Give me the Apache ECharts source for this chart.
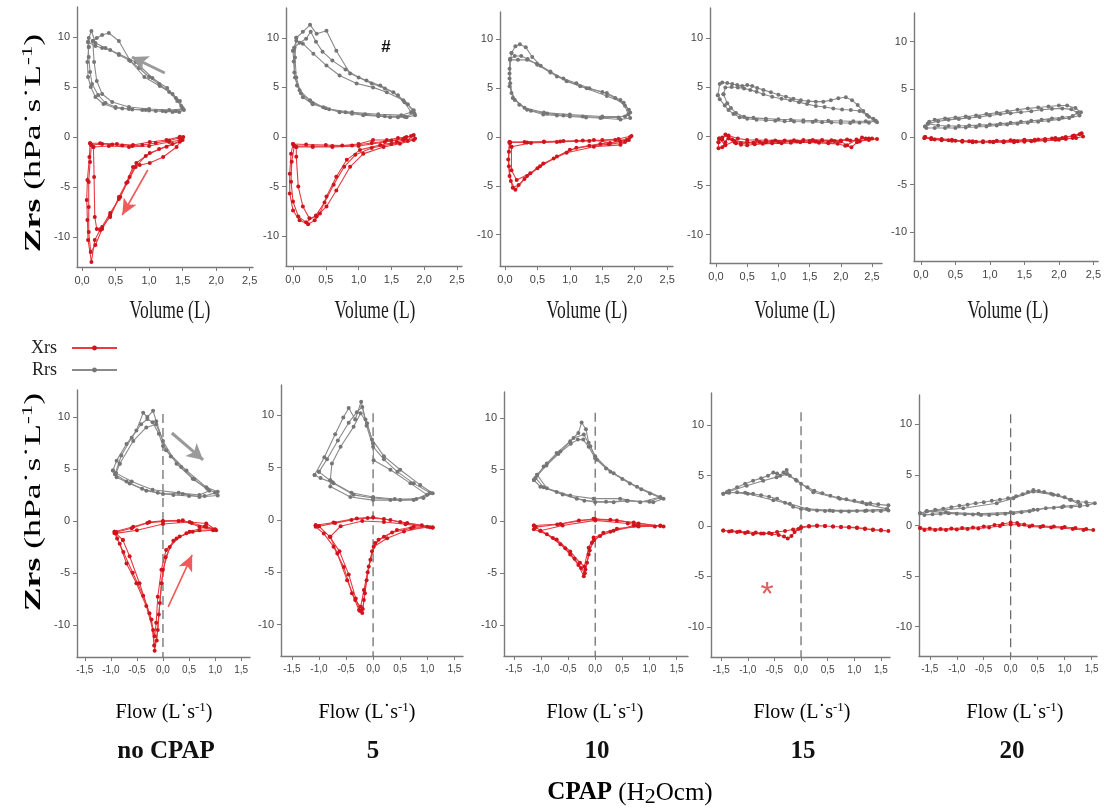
<!DOCTYPE html>
<html>
<head>
<meta charset="utf-8">
<script src="https://cdn.jsdelivr.net/npm/echarts@6/dist/echarts.min.js"></script>
<style>
html, body { margin: 0; background: #fff; }
#main { width: 1104px; height: 809px; }
</style>
</head>
<body>
<div id="main"></div>
<script>
// tick labels
const volTicks = [0, 0.5, 1, 1.5, 2, 2.5]
const flowTicks = [-1.5, -1, -0.5, 0, 0.5, 1, 1.5]
const zTicks = [-10, -5, 0, 5, 10]
const cpapLevels = ['no CPAP', '5', '10', '15', '20']

// Zrs vs volume, one array of loops (breaths) per CPAP level
const volRrs0 = [
    [[0.10, 9.0], [0.08, 7.5], [0.09, 6.0], [0.13, 5.0], [0.2, 4.0], [0.32, 3.3], [0.5, 2.9], [0.6, 2.85], [0.75, 2.75], [0.9, 2.7], [1.0, 2.65], [1.1, 2.6], [1.25, 2.55], [1.35, 2.5], [1.45, 2.5], [1.52, 2.7], [1.48, 3.1], [1.4, 3.9], [1.27, 4.9], [1.05, 5.9], [0.8, 7.5], [0.55, 8.3], [0.35, 8.9], [0.2, 9.4], [0.14, 10.6], [0.1, 9.9], [0.10, 9.0]],
    [[0.16, 9.6], [0.18, 7.5], [0.22, 5.6], [0.3, 4.3], [0.45, 3.5], [0.7, 3.0], [1.0, 2.8], [1.3, 2.7], [1.5, 2.8], [1.46, 3.6], [1.35, 4.3], [1.16, 5.1], [0.93, 6.0], [0.72, 7.6], [0.55, 9.6], [0.4, 10.4], [0.3, 10.2], [0.22, 9.9], [0.16, 9.6]],
    [[0.09, 9.5], [0.2, 9.1], [0.3, 8.9], [0.42, 8.7], [0.55, 8.2], [0.7, 7.7], [0.85, 6.9], [1.0, 6.0], [1.15, 5.3], [1.3, 4.5], [1.42, 3.6], [1.5, 2.9], [1.4, 2.6], [1.2, 2.6], [0.95, 2.7], [0.7, 2.8], [0.5, 3.0], [0.35, 3.4], [0.24, 4.2], [0.15, 5.3], [0.12, 6.5], [0.1, 8.0], [0.09, 9.5]]
]
const volXrs0 = [
    [[0.12, -0.63], [0.27, -0.63], [0.52, -0.7], [0.76, -0.8], [1.01, -0.5], [1.26, -0.3], [1.46, 0.03], [1.51, 0], [1.46, -0.47], [1.26, -0.97], [1.01, -1.6], [0.81, -2.6], [0.71, -4], [0.57, -6], [0.42, -7.6], [0.27, -9.3], [0.19, -10.3], [0.14, -12.5], [0.09, -10.3], [0.08, -8.3], [0.07, -6.3], [0.08, -4.3], [0.11, -2], [0.12, -0.63]],
    [[0.17, -1.0], [0.18, -4], [0.19, -8], [0.22, -9.2], [0.3, -9.0], [0.42, -8.0], [0.55, -6], [0.66, -4.6], [0.76, -3.0], [0.86, -2.8], [1.01, -2.6], [1.21, -2.0], [1.41, -1.0], [1.48, -0.3], [1.3, -0.5], [1.0, -0.9], [0.7, -1.0], [0.4, -0.9], [0.17, -1.0]],
    [[0.14, -0.8], [0.3, -0.7], [0.45, -0.75], [0.6, -0.85], [0.75, -0.9], [0.9, -0.8], [1.1, -0.6], [1.3, -0.35], [1.45, -0.1], [1.5, -0.3], [1.35, -0.7], [1.15, -1.2], [0.95, -1.9], [0.8, -3.0], [0.68, -4.5], [0.55, -6.2], [0.42, -7.8], [0.3, -9.2], [0.2, -10.8], [0.13, -11.5], [0.1, -9.5], [0.1, -7], [0.1, -4.5], [0.12, -2.5], [0.14, -0.8]]
]
const volRrs1 = [
    [[0, 8.7], [0.01, 7.6], [0.03, 6], [0.1, 4.7], [0.26, 3.7], [0.46, 3.0], [0.71, 2.5], [0.9, 2.35], [1.07, 2.2], [1.3, 2.1], [1.48, 2.0], [1.6, 2.0], [1.73, 2.0], [1.86, 2.2], [1.84, 2.7], [1.68, 3.7], [1.43, 4.5], [1.22, 5.0], [0.97, 5.4], [0.71, 6.2], [0.51, 7.2], [0.31, 8.4], [0.15, 9.4], [0.05, 9.7], [0, 8.7]],
    [[0.05, 10], [0.15, 10.6], [0.26, 11.3], [0.36, 10.4], [0.51, 10.7], [0.66, 8.7], [0.87, 6.4], [1.12, 5.7], [1.33, 5.2], [1.53, 4.5], [1.7, 3.5], [1.8, 2.5], [1.65, 2.2], [1.3, 2.3], [0.9, 2.5], [0.55, 2.8], [0.3, 3.4], [0.12, 4.4], [0.05, 6.0], [0.03, 8.0], [0.05, 10]],
    [[0.02, 9.0], [0.1, 9.5], [0.2, 9.9], [0.27, 10.6], [0.35, 9.6], [0.45, 8.6], [0.6, 7.7], [0.8, 6.8], [1.0, 6.0], [1.2, 5.4], [1.4, 4.9], [1.6, 4.2], [1.75, 3.3], [1.85, 2.4], [1.7, 2.05], [1.4, 2.1], [1.1, 2.3], [0.8, 2.5], [0.5, 2.9], [0.3, 3.3], [0.15, 4.0], [0.06, 5.2], [0.02, 6.5], [0.02, 9.0]]
]
const volXrs1 = [
    [[0, -0.7], [0.2, -0.75], [0.5, -0.8], [0.75, -0.85], [1.0, -0.7], [1.22, -0.3], [1.43, -0.3], [1.6, -0.1], [1.73, 0], [1.84, 0.2], [1.86, -0.15], [1.68, -0.3], [1.58, -0.5], [1.33, -0.8], [1.02, -1.3], [0.82, -2.3], [0.66, -4], [0.51, -6], [0.41, -7.7], [0.33, -8.4], [0.23, -8.8], [0.1, -8.4], [0, -7.4], [-0.05, -5.7], [-0.05, -3.7], [-0.03, -1.7], [0, -0.7]],
    [[0.05, -1.0], [0.05, -2.0], [0.08, -5.0], [0.15, -7.0], [0.25, -8.2], [0.36, -8.0], [0.51, -7.0], [0.66, -5.4], [0.87, -3.0], [1.07, -1.7], [1.38, -1.0], [1.63, -0.67], [1.84, -0.3], [1.7, -0.2], [1.4, -0.5], [1.0, -0.9], [0.6, -1.0], [0.3, -1.0], [0.05, -1.0]],
    [[0.02, -0.9], [0.3, -0.9], [0.6, -0.9], [0.9, -0.85], [1.2, -0.6], [1.5, -0.35], [1.7, -0.1], [1.8, 0.1], [1.75, -0.4], [1.5, -0.7], [1.2, -1.1], [0.95, -1.8], [0.78, -3.0], [0.62, -4.8], [0.48, -6.6], [0.35, -7.9], [0.2, -8.6], [0.08, -8.0], [0.0, -6.5], [-0.03, -4.5], [-0.02, -2.5], [0.02, -0.9]]
]
const volRrs2 = [
    [[0.08, 7.9], [0.07, 6.5], [0.07, 5.2], [0.15, 3.8], [0.34, 2.8], [0.59, 2.3], [0.8, 2.2], [1.0, 2.1], [1.25, 2.0], [1.47, 1.95], [1.78, 1.8], [1.93, 1.95], [1.91, 2.8], [1.78, 3.8], [1.57, 4.5], [1.26, 5.0], [0.95, 5.7], [0.7, 6.7], [0.49, 7.5], [0.34, 7.9], [0.2, 7.9], [0.08, 7.9]],
    [[0.1, 8.6], [0.16, 9.3], [0.23, 9.5], [0.32, 9.2], [0.42, 8.2], [0.55, 7.3], [0.8, 6.2], [1.16, 5.2], [1.57, 4.2], [1.83, 3.5], [1.93, 2.5], [1.85, 2.1], [1.5, 2.1], [1.0, 2.3], [0.6, 2.5], [0.3, 3.0], [0.12, 4.0], [0.08, 5.5], [0.07, 7.0], [0.1, 8.6]],
    [[0.08, 8.0], [0.15, 8.3], [0.25, 8.3], [0.35, 8.0], [0.5, 7.4], [0.7, 6.6], [0.9, 6.0], [1.1, 5.5], [1.3, 5.0], [1.5, 4.6], [1.7, 4.0], [1.85, 3.2], [1.9, 2.3], [1.75, 2.0], [1.5, 2.0], [1.2, 2.1], [0.9, 2.2], [0.65, 2.4], [0.4, 2.7], [0.22, 3.3], [0.1, 4.5], [0.07, 6.0], [0.08, 8.0]]
]
const volXrs2 = [
    [[0.08, -0.55], [0.34, -0.55], [0.6, -0.5], [0.85, -0.45], [1.1, -0.4], [1.37, -0.3], [1.62, -0.6], [1.88, -0.3], [1.93, 0], [1.78, -0.45], [1.47, -0.7], [1.1, -1.1], [0.8, -2.0], [0.54, -3.0], [0.34, -4.0], [0.21, -4.9], [0.12, -5.2], [0.07, -4.0], [0.05, -2.3], [0.07, -0.6], [0.08, -0.55]],
    [[0.1, -1.0], [0.1, -3.4], [0.18, -4.4], [0.39, -3.7], [0.59, -2.7], [0.95, -1.6], [1.37, -1.0], [1.78, -0.8], [1.91, -0.3], [1.7, -0.3], [1.3, -0.4], [0.8, -0.5], [0.4, -0.6], [0.1, -1.0]],
    [[0.07, -0.5], [0.3, -0.5], [0.6, -0.45], [0.9, -0.4], [1.2, -0.35], [1.5, -0.3], [1.75, -0.2], [1.95, 0.1], [1.85, -0.5], [1.6, -0.75], [1.3, -0.9], [1.0, -1.3], [0.75, -2.2], [0.5, -3.2], [0.3, -4.3], [0.16, -5.4], [0.09, -4.5], [0.06, -3.0], [0.06, -1.5], [0.07, -0.5]]
]
const volRrs3 = [
    [[0.03, 4.2], [0.06, 5.35], [0.1, 5.5], [0.18, 5.45], [0.26, 5.35], [0.34, 5.25], [0.42, 5.15], [0.5, 5.25], [0.58, 5.15], [0.66, 4.95], [0.76, 4.75], [0.88, 4.5], [1.0, 4.25], [1.12, 4.05], [1.24, 3.85], [1.36, 3.7], [1.48, 3.6], [1.6, 3.55], [1.72, 3.55], [1.84, 3.7], [1.96, 3.9], [2.08, 4.0], [2.18, 3.7], [2.27, 3.2], [2.36, 2.6], [2.45, 2.0], [2.55, 1.6], [2.58, 1.45], [2.45, 1.4], [2.3, 1.4], [2.15, 1.38], [2.0, 1.38], [1.85, 1.42], [1.7, 1.45], [1.55, 1.48], [1.4, 1.5], [1.25, 1.52], [1.1, 1.55], [0.95, 1.6], [0.8, 1.65], [0.65, 1.7], [0.5, 1.8], [0.38, 1.95], [0.28, 2.3], [0.2, 2.7], [0.14, 3.15], [0.06, 3.8], [0.03, 4.2]],
    [[0.12, 4.3], [0.15, 5.0], [0.25, 5.05], [0.35, 5.0], [0.45, 4.9], [0.55, 4.75], [0.65, 4.55], [0.76, 4.3], [0.9, 4.05], [1.05, 3.85], [1.19, 3.7], [1.33, 3.5], [1.46, 3.3], [1.6, 3.1], [1.74, 3.0], [1.88, 2.85], [2.02, 2.75], [2.16, 2.7], [2.3, 2.6], [2.42, 2.2], [2.52, 1.8], [2.56, 1.6], [2.4, 1.55], [2.2, 1.55], [2.0, 1.58], [1.8, 1.6], [1.6, 1.62], [1.4, 1.65], [1.2, 1.7], [1.0, 1.75], [0.8, 1.82], [0.6, 1.9], [0.45, 2.0], [0.32, 2.4], [0.24, 2.9], [0.18, 3.4], [0.12, 4.3]]
]
const volXrs3 = [
    [[0.04, -0.6], [0.04, -1.2], [0.1, -1.1], [0.15, -0.6], [0.2, 0.0], [0.26, -0.3], [0.32, -0.7], [0.4, -0.85], [0.5, -0.9], [0.62, -0.8], [0.75, -0.75], [0.9, -0.7], [1.05, -0.7], [1.2, -0.65], [1.35, -0.6], [1.5, -0.6], [1.65, -0.65], [1.8, -0.7], [1.95, -0.75], [2.07, -0.95], [2.17, -1.1], [2.26, -0.6], [2.34, -0.1], [2.45, -0.2], [2.58, -0.25], [2.45, -0.35], [2.3, -0.45], [2.15, -0.4], [2.0, -0.4], [1.85, -0.38], [1.7, -0.36], [1.55, -0.35], [1.4, -0.37], [1.25, -0.38], [1.1, -0.4], [0.95, -0.4], [0.8, -0.38], [0.65, -0.36], [0.5, -0.35], [0.35, -0.2], [0.2, 0.1], [0.1, -0.1], [0.04, -0.6]],
    [[0.05, -0.2], [0.1, -0.3], [0.15, 0.2], [0.2, -0.2], [0.3, -0.6], [0.4, -0.7], [0.6, -0.65], [0.8, -0.6], [1.0, -0.55], [1.2, -0.5], [1.4, -0.45], [1.6, -0.5], [1.8, -0.6], [2.0, -0.5], [2.1, -0.9], [2.25, -0.3], [2.4, -0.2], [2.5, -0.2], [2.3, -0.5], [2.1, -0.3], [1.9, -0.45], [1.7, -0.4], [1.5, -0.45], [1.3, -0.5], [1.1, -0.45], [0.9, -0.5], [0.7, -0.55], [0.5, -0.6], [0.3, -0.45], [0.15, -0.9], [0.05, -0.2]]
]
const volRrs4 = [
    [[0.06, 1.1], [0.12, 1.6], [0.2, 1.8], [0.35, 1.95], [0.5, 2.05], [0.65, 2.15], [0.8, 2.25], [0.95, 2.4], [1.1, 2.55], [1.25, 2.7], [1.4, 2.85], [1.55, 3.0], [1.7, 3.1], [1.85, 3.2], [2.0, 3.3], [2.12, 3.3], [2.24, 3.05], [2.32, 2.6], [2.3, 2.25], [2.15, 2.0], [2.0, 1.85], [1.85, 1.7], [1.7, 1.6], [1.55, 1.5], [1.4, 1.4], [1.25, 1.3], [1.1, 1.2], [0.95, 1.1], [0.8, 1.05], [0.65, 1.0], [0.5, 0.95], [0.35, 0.95], [0.2, 0.95], [0.08, 0.95], [0.06, 1.1]],
    [[0.1, 1.4], [0.25, 1.65], [0.4, 1.8], [0.55, 1.9], [0.7, 2.0], [0.85, 2.1], [1.0, 2.25], [1.15, 2.4], [1.3, 2.5], [1.45, 2.6], [1.6, 2.7], [1.75, 2.85], [1.9, 2.95], [2.05, 3.0], [2.18, 2.9], [2.27, 2.55], [2.2, 2.2], [2.05, 2.05], [1.9, 1.95], [1.75, 1.8], [1.6, 1.7], [1.45, 1.6], [1.3, 1.5], [1.15, 1.4], [1.0, 1.3], [0.85, 1.25], [0.7, 1.2], [0.55, 1.15], [0.4, 1.15], [0.25, 1.2], [0.1, 1.4]]
]
const volXrs4 = [
    [[0.06, 0], [0.15, -0.2], [0.3, -0.3], [0.45, -0.4], [0.6, -0.5], [0.75, -0.55], [0.9, -0.55], [1.05, -0.5], [1.2, -0.45], [1.35, -0.4], [1.5, -0.35], [1.65, -0.3], [1.8, -0.2], [1.95, -0.1], [2.1, 0], [2.22, 0.15], [2.33, 0.4], [2.35, 0.05], [2.25, -0.1], [2.1, -0.2], [1.95, -0.3], [1.8, -0.35], [1.65, -0.4], [1.5, -0.5], [1.35, -0.55], [1.2, -0.55], [1.05, -0.55], [0.9, -0.5], [0.75, -0.45], [0.6, -0.4], [0.45, -0.3], [0.3, -0.2], [0.15, -0.1], [0.06, 0]],
    [[0.05, -0.1], [0.15, -0.2], [0.3, -0.35], [0.5, -0.4], [0.7, -0.45], [0.9, -0.45], [1.1, -0.4], [1.3, -0.35], [1.5, -0.3], [1.7, -0.25], [1.9, -0.15], [2.05, -0.1], [2.2, 0.1], [2.3, 0.3], [2.2, -0.1], [2.0, -0.3], [1.8, -0.4], [1.6, -0.45], [1.4, -0.45], [1.2, -0.5], [1.0, -0.5], [0.8, -0.5], [0.6, -0.45], [0.4, -0.35], [0.2, -0.25], [0.05, -0.1]]
]

// Zrs vs flow
const flowRrs0 = [
    [[-0.96, 4.85], [-0.89, 5.8], [-0.7, 7.4], [-0.51, 8.7], [-0.38, 10.4], [-0.3, 10.0], [-0.19, 10.6], [-0.13, 9.6], [0.06, 6.8], [0.45, 4.85], [0.83, 3.25], [1.05, 2.8], [1.05, 2.45], [0.7, 2.3], [0.38, 2.6], [0, 2.6], [-0.32, 2.9], [-0.64, 3.6], [-0.89, 4.2], [-0.96, 4.85]],
    [[-0.83, 5.5], [-0.57, 7.7], [-0.32, 9.0], [-0.13, 9.3], [0, 7.7], [0.26, 5.5], [0.57, 4.05], [0.89, 2.9], [0.7, 2.5], [0.3, 2.7], [-0.2, 3.0], [-0.6, 3.8], [-0.9, 4.6], [-0.83, 5.5]],
    [[-0.92, 4.5], [-0.8, 6.3], [-0.6, 8.0], [-0.42, 9.3], [-0.3, 9.8], [-0.2, 9.5], [-0.08, 8.4], [0.0, 7.2], [0.15, 6.2], [0.35, 5.2], [0.6, 4.0], [0.85, 3.1], [1.0, 2.7], [0.8, 2.4], [0.5, 2.4], [0.2, 2.5], [-0.1, 2.7], [-0.4, 3.1], [-0.7, 3.8], [-0.92, 4.5]]
]
const flowXrs0 = [
    [[-0.93, -1.05], [-0.57, -0.57], [-0.26, -0.1], [0, 0], [0.38, 0.06], [0.7, -0.57], [1.02, -0.9], [0.96, -0.9], [0.57, -1.05], [0.32, -1.5], [0.13, -2.5], [0, -4.7], [-0.06, -7.9], [-0.1, -10.5], [-0.16, -12.5], [-0.19, -10.5], [-0.32, -8.2], [-0.51, -6], [-0.7, -4.1], [-0.83, -2.2], [-0.93, -1.2], [-0.93, -1.05]],
    [[-0.77, -1.85], [-0.64, -3.4], [-0.45, -6], [-0.26, -8.9], [-0.16, -11.1], [-0.13, -9.8], [-0.1, -7.3], [-0.03, -4.7], [0.06, -2.8], [0.26, -1.7], [0.51, -1.05], [0.83, -0.57], [1.0, -0.8], [0.83, -0.25], [0.51, -0.1], [0, -0.3], [-0.5, -0.9], [-0.9, -1.2], [-0.77, -1.85]],
    [[-0.9, -1.1], [-0.6, -0.7], [-0.3, -0.2], [0, -0.05], [0.3, 0.0], [0.55, -0.2], [0.8, -0.55], [1.0, -0.85], [0.7, -0.9], [0.45, -1.2], [0.2, -1.9], [0.05, -3.5], [-0.03, -6.0], [-0.08, -9.0], [-0.12, -11.5], [-0.17, -12.0], [-0.22, -9.5], [-0.38, -7.2], [-0.58, -5.0], [-0.76, -3.0], [-0.88, -1.7], [-0.9, -1.1]]
]
const flowRrs1 = [
    [[-1.08, 4.3], [-0.9, 6.0], [-0.7, 8.2], [-0.55, 9.8], [-0.45, 10.7], [-0.33, 9.6], [-0.22, 11.3], [-0.14, 9.6], [-0.02, 7.7], [0.2, 6.1], [0.5, 4.8], [0.87, 3.35], [1.1, 2.55], [0.93, 2.1], [0.5, 1.9], [0, 2.1], [-0.36, 2.4], [-0.73, 3.5], [-0.97, 4.0], [-1.08, 4.3]],
    [[-0.79, 3.8], [-0.76, 5.4], [-0.6, 7.0], [-0.36, 8.9], [-0.23, 10.2], [-0.11, 9.25], [0, 7.3], [0.01, 5.7], [0.32, 4.8], [0.69, 3.5], [1.0, 2.4], [0.75, 1.9], [0.32, 1.9], [0, 1.9], [-0.42, 2.2], [-0.79, 3.2], [-0.79, 3.8]],
    [[-1.0, 4.6], [-0.85, 5.8], [-0.65, 7.6], [-0.45, 9.3], [-0.3, 10.3], [-0.2, 10.8], [-0.12, 9.0], [0.0, 7.0], [0.2, 5.8], [0.45, 4.6], [0.75, 3.5], [1.05, 2.6], [0.8, 2.0], [0.4, 2.0], [0.0, 2.2], [-0.4, 2.6], [-0.75, 3.6], [-1.0, 4.6]]
]
const flowXrs1 = [
    [[-1.06, -0.5], [-0.73, -0.25], [-0.3, 0.15], [0, 0.25], [0.32, 0], [0.63, -0.3], [1.1, -0.7], [1.1, -0.75], [0.75, -0.65], [0.44, -0.95], [0.2, -1.6], [0.04, -2.2], [-0.05, -3.8], [-0.12, -5.75], [-0.17, -7.65], [-0.2, -8.9], [-0.26, -8.6], [-0.39, -7.0], [-0.54, -4.5], [-0.73, -2.55], [-0.91, -1.3], [-1.06, -0.65], [-1.06, -0.5]],
    [[-0.79, -1.6], [-0.66, -3.2], [-0.48, -5.75], [-0.33, -7.65], [-0.23, -8.3], [-0.17, -6.7], [-0.08, -4.45], [0.01, -2.55], [0.26, -1.75], [0.57, -1.1], [1.0, -0.65], [0.6, -0.4], [0.2, -0.2], [-0.2, -0.1], [-0.6, -0.6], [-0.79, -1.6]],
    [[-1.0, -0.6], [-0.7, -0.3], [-0.4, 0.0], [-0.1, 0.2], [0.2, 0.1], [0.5, -0.2], [0.9, -0.5], [1.05, -0.7], [0.7, -0.8], [0.35, -1.2], [0.1, -1.9], [-0.02, -3.0], [-0.1, -5.0], [-0.15, -7.0], [-0.19, -8.5], [-0.24, -8.7], [-0.32, -7.5], [-0.45, -5.2], [-0.62, -3.0], [-0.8, -1.6], [-1.0, -0.6]]
]
const flowRrs2 = [
    [[-1.13, 4.0], [-0.95, 5.3], [-0.71, 6.6], [-0.46, 7.75], [-0.31, 8.55], [-0.25, 9.55], [-0.17, 8.9], [-0.12, 7.6], [0, 6.3], [0.28, 4.8], [0.64, 3.65], [1.01, 2.7], [1.26, 2.2], [1.07, 1.85], [0.58, 2.0], [0.34, 1.85], [0, 1.85], [-0.34, 2.2], [-0.71, 2.85], [-1.01, 3.35], [-1.13, 4.0]],
    [[-1.07, 4.5], [-0.89, 5.6], [-0.64, 6.75], [-0.4, 8.05], [-0.21, 8.4], [-0.09, 7.25], [0.03, 5.95], [0.34, 4.65], [0.77, 3.35], [1.2, 2.35], [0.83, 1.85], [0.46, 2.2], [-0.03, 2.2], [-0.46, 2.5], [-0.89, 3.2], [-1.07, 4.5]],
    [[-1.1, 4.2], [-0.9, 5.4], [-0.68, 6.5], [-0.45, 7.5], [-0.32, 7.9], [-0.22, 7.9], [-0.12, 7.2], [0.0, 6.1], [0.2, 5.1], [0.5, 4.1], [0.85, 3.1], [1.2, 2.3], [1.0, 1.9], [0.6, 2.0], [0.2, 1.9], [-0.2, 2.0], [-0.6, 2.6], [-0.95, 3.3], [-1.1, 4.2]]
]
const flowXrs2 = [
    [[-1.13, -0.4], [-0.64, -0.25], [-0.03, 0.25], [0.28, 0.15], [0.71, -0.1], [1.26, -0.5], [1.2, -0.4], [0.71, -0.4], [0.34, -0.9], [0.09, -1.4], [-0.06, -2.05], [-0.12, -3.2], [-0.18, -4.65], [-0.21, -5.3], [-0.31, -4.2], [-0.46, -3.2], [-0.64, -2.2], [-0.89, -1.25], [-1.13, -0.75], [-1.13, -0.4]],
    [[-1.01, -0.9], [-0.71, -1.75], [-0.46, -2.9], [-0.28, -4.0], [-0.2, -4.35], [-0.12, -2.55], [-0.03, -1.55], [0.28, -1.0], [0.77, -0.4], [1.1, -0.5], [0.6, -0.2], [0, 0.1], [-0.6, -0.4], [-1.01, -0.9]],
    [[-1.1, -0.55], [-0.7, -0.3], [-0.3, 0.1], [0, 0.2], [0.4, 0.1], [0.8, -0.2], [1.2, -0.45], [0.8, -0.5], [0.4, -0.7], [0.15, -1.1], [-0.02, -1.8], [-0.1, -2.8], [-0.15, -4.0], [-0.19, -5.0], [-0.26, -4.5], [-0.38, -3.6], [-0.55, -2.6], [-0.78, -1.6], [-1.1, -0.55]]
]
const flowRrs3 = [
    [[-1.46, 3.2], [-1.35, 3.5], [-1.2, 3.85], [-1.05, 4.2], [-0.9, 4.5], [-0.75, 4.75], [-0.62, 5.0], [-0.52, 5.3], [-0.45, 5.2], [-0.39, 5.0], [-0.33, 5.3], [-0.27, 5.55], [-0.21, 5.0], [-0.1, 4.6], [0.0, 4.2], [0.12, 3.85], [0.25, 3.5], [0.4, 3.25], [0.55, 3.0], [0.7, 2.8], [0.85, 2.65], [1.0, 2.5], [1.15, 2.35], [1.3, 2.25], [1.45, 2.15], [1.64, 2.05], [1.64, 1.55], [1.5, 1.5], [1.35, 1.5], [1.2, 1.5], [1.05, 1.48], [0.9, 1.45], [0.75, 1.45], [0.6, 1.5], [0.45, 1.5], [0.3, 1.55], [0.15, 1.6], [0, 1.7], [-0.15, 1.9], [-0.3, 2.3], [-0.45, 2.7], [-0.6, 2.9], [-0.75, 3.05], [-0.9, 3.2], [-1.05, 3.3], [-1.2, 3.35], [-1.35, 3.3], [-1.46, 3.2]],
    [[-1.39, 3.35], [-1.02, 4.0], [-0.71, 4.5], [-0.46, 4.85], [-0.27, 5.15], [-0.08, 4.5], [0.23, 3.35], [0.73, 2.7], [1.23, 2.15], [1.61, 1.7], [1.23, 1.55], [0.54, 1.55], [0.11, 1.7], [-0.21, 2.2], [-0.52, 2.55], [-1.0, 3.2], [-1.39, 3.35]]
]
const flowXrs3 = [
    [[-1.46, -0.45], [-1.3, -0.5], [-1.15, -0.55], [-1.0, -0.6], [-0.85, -0.65], [-0.7, -0.75], [-0.55, -0.8], [-0.42, -0.9], [-0.32, -1.05], [-0.25, -1.25], [-0.18, -1.0], [-0.12, -0.6], [-0.05, -0.3], [0, -0.1], [0.15, 0.0], [0.3, 0.05], [0.45, 0.0], [0.6, -0.05], [0.75, -0.1], [0.9, -0.1], [1.05, -0.15], [1.2, -0.25], [1.35, -0.35], [1.5, -0.4], [1.64, -0.5], [1.5, -0.45], [1.35, -0.4], [1.2, -0.3], [1.05, -0.2], [0.9, -0.15], [0.75, -0.1], [0.6, -0.05], [0.45, 0.0], [0.3, 0.0], [0.15, -0.05], [0, -0.2], [-0.15, -0.35], [-0.3, -0.5], [-0.45, -0.6], [-0.6, -0.7], [-0.75, -0.75], [-0.9, -0.8], [-1.05, -0.7], [-1.2, -0.6], [-1.35, -0.55], [-1.46, -0.45]]
]
const flowRrs4 = [
    [[-1.68, 1.2], [-1.55, 1.4], [-1.4, 1.55], [-1.25, 1.65], [-1.1, 1.8], [-0.95, 1.95], [-0.8, 2.05], [-0.65, 2.2], [-0.5, 2.3], [-0.35, 2.45], [-0.2, 2.55], [-0.05, 2.7], [0.1, 2.9], [0.22, 3.1], [0.32, 3.3], [0.42, 3.5], [0.52, 3.4], [0.62, 3.3], [0.75, 3.15], [0.88, 3.0], [1.0, 2.8], [1.12, 2.55], [1.25, 2.35], [1.4, 2.3], [1.56, 2.2], [1.42, 2.0], [1.28, 1.9], [1.12, 1.85], [0.95, 1.8], [0.8, 1.75], [0.65, 1.7], [0.5, 1.55], [0.35, 1.4], [0.2, 1.3], [0.05, 1.2], [-0.1, 1.15], [-0.25, 1.1], [-0.4, 1.05], [-0.55, 1.05], [-0.7, 1.08], [-0.85, 1.1], [-1.0, 1.15], [-1.15, 1.2], [-1.3, 1.15], [-1.45, 1.1], [-1.6, 1.05], [-1.68, 1.2]],
    [[-1.56, 1.4], [-0.88, 1.7], [-0.26, 2.2], [0.05, 2.7], [0.42, 3.35], [0.79, 3.05], [1.1, 2.55], [1.29, 2.05], [0.98, 1.9], [0.42, 1.55], [0, 1.3], [-0.6, 1.15], [-1.2, 1.3], [-1.56, 1.4]]
]
const flowXrs4 = [
    [[-1.68, -0.25], [-1.5, -0.3], [-1.3, -0.35], [-1.1, -0.3], [-0.9, -0.25], [-0.7, -0.2], [-0.5, -0.1], [-0.3, 0.05], [-0.15, 0.15], [0, 0.3], [0.12, 0.25], [0.25, 0.1], [0.4, 0.0], [0.6, -0.05], [0.8, -0.1], [1.0, -0.15], [1.2, -0.25], [1.4, -0.35], [1.53, -0.45], [1.35, -0.45], [1.15, -0.35], [0.95, -0.25], [0.75, -0.2], [0.55, -0.15], [0.35, -0.1], [0.15, 0.05], [0, 0.1], [-0.2, -0.05], [-0.4, -0.2], [-0.6, -0.3], [-0.8, -0.35], [-1.0, -0.4], [-1.2, -0.45], [-1.4, -0.45], [-1.6, -0.45], [-1.68, -0.25]]
]

// top of the dashed zero-flow line in each flow panel
const zeroFlowTop = [10.3, 10.2, 10.5, 11.3, 11.0]

// direction arrows: [panel, kind, x1, y1, x2, y2]
const arrows = [
    [0, 'R', 1.235, 6.4, 0.744, 8.0],
    [0, 'X', 0.98, -3.3, 0.6, -7.8],
    [5, 'R', 0.17, 8.46, 0.77, 5.87],
    [5, 'X', 0.1, -8.27, 0.56, -3.27]
]

const volR = [volRrs0, volRrs1, volRrs2, volRrs3, volRrs4]
const volX = [volXrs0, volXrs1, volXrs2, volXrs3, volXrs4]
const flowR = [flowRrs0, flowRrs1, flowRrs2, flowRrs3, flowRrs4]
const flowX = [flowXrs0, flowXrs1, flowXrs2, flowXrs3, flowXrs4]

// panel frames (pixels) and axis ranges
const frames = [
    { left: 77, top: 7, width: 176, height: 260, x: [-0.075, 2.55], y: [-13, 13] },
    { left: 286, top: 8, width: 176, height: 258, x: [-0.107, 2.576], y: [-13, 13] },
    { left: 500, top: 12, width: 173, height: 254, x: [-0.077, 2.59], y: [-13.2, 12.8] },
    { left: 710, top: 8, width: 172, height: 255, x: [-0.096, 2.66], y: [-12.9, 13.1] },
    { left: 914, top: 13, width: 186, height: 248, x: [-0.1, 2.57], y: [-13, 13] },
    { left: 77, top: 390, width: 173, height: 267, x: [-1.65, 1.67], y: [-13.1, 12.6] },
    { left: 281, top: 385, width: 182, height: 271, x: [-1.70, 1.66], y: [-13.0, 12.9] },
    { left: 504, top: 392, width: 184, height: 264, x: [-1.68, 1.71], y: [-13.0, 12.5] },
    { left: 711, top: 393, width: 179, height: 264, x: [-1.69, 1.67], y: [-13.0, 13.2] },
    { left: 919, top: 395, width: 178, height: 261, x: [-1.70, 1.60], y: [-12.9, 12.9] }
]

const GRAY_DOT = '#767676'
const GRAY_LINE = '#8a8a8a'
const RED_DOT = '#cf141c'
const RED_LINE = '#e83a40'
const AXIS = '#7a7a7a'
const SANS = 'Liberation Sans, Arial, sans-serif'
const SERIF = 'Liberation Serif, Times New Roman, serif'

const comma = (v) => v.toFixed(1).replace('.', ',')

const grids = frames.map((f) => ({ left: f.left, top: f.top, width: f.width, height: f.height }))

const xAxes = frames.map((f, i) => {
    const ticks = i < 5 ? volTicks : flowTicks
    return {
        type: 'value', gridIndex: i, min: f.x[0], max: f.x[1],
        axisLine: { onZero: false, lineStyle: { color: AXIS, width: 1.4 } },
        axisTick: { show: true, customValues: ticks, length: 4, lineStyle: { color: AXIS } },
        axisLabel: {
            customValues: ticks, formatter: comma, color: '#444',
            fontFamily: SANS, fontSize: i < 5 ? 11 : 10, margin: 8
        },
        splitLine: { show: false }
    }
})

const yAxes = frames.map((f, i) => ({
    type: 'value', gridIndex: i, min: f.y[0], max: f.y[1],
    axisLine: { onZero: false, lineStyle: { color: AXIS, width: 1.4 } },
    axisTick: { show: true, customValues: zTicks, length: 4, lineStyle: { color: AXIS } },
    axisLabel: {
        customValues: zTicks, formatter: (v) => String(v), color: '#444',
        fontFamily: SANS, fontSize: 11, margin: 7
    },
    splitLine: { show: false }
}))

const loopSeries = (loops, name, gi, line, dot) => loops.map((pts) => ({
    type: 'line', name, xAxisIndex: gi, yAxisIndex: gi, data: pts,
    symbol: 'circle', symbolSize: 4, showSymbol: true,
    lineStyle: { width: 1.1, color: line }, itemStyle: { color: dot },
    emphasis: { disabled: true }, silent: true, z: 3
}))

let series = []
for (let i = 0; i < 5; i++) {
    series = series.concat(loopSeries(volR[i], 'Rrs', i, GRAY_LINE, GRAY_DOT))
    series = series.concat(loopSeries(volX[i], 'Xrs', i, RED_LINE, RED_DOT))
    series = series.concat(loopSeries(flowR[i], 'Rrs', i + 5, GRAY_LINE, GRAY_DOT))
    series = series.concat(loopSeries(flowX[i], 'Xrs', i + 5, RED_LINE, RED_DOT))
    // dashed zero-flow line
    series.push({
        type: 'line', name: 'zeroFlow', xAxisIndex: i + 5, yAxisIndex: i + 5,
        data: [[0, zeroFlowTop[i]], [0, frames[i + 5].y[0]]],
        showSymbol: false, silent: true, z: 2,
        lineStyle: { color: '#555', width: 1.1, type: [9, 5] }
    })
}

// arrows as mark lines
arrows.forEach((a) => {
    const isR = a[1] === 'R'
    series.push({
        type: 'line', name: 'arrow', xAxisIndex: a[0], yAxisIndex: a[0], data: [],
        markLine: {
            silent: true, animation: false,
            symbol: ['none', 'arrow'], symbolSize: isR ? [13, 16] : [11, 16],
            label: { show: false },
            lineStyle: { color: isR ? '#9a9a9a' : '#ef5a5a', width: isR ? 3 : 1.6, type: 'solid' },
            data: [[{ coord: [a[2], a[3]] }, { coord: [a[4], a[5]] }]]
        }
    })
})

const sup = { fontFamily: SERIF, fontSize: 13, color: '#1a1a1a', padding: [0, 0, 10, 0] }

const yTitle = (y) => ({
    type: 'text', x: 34, y, rotation: Math.PI / 2, scaleX: 1.55, silent: true,
    style: {
        text: '{b|Zrs }{r|(hPa˙s˙L}{s|-1}{r|)}',
        align: 'center', verticalAlign: 'middle',
        rich: {
            b: { fontFamily: SERIF, fontSize: 23, fontWeight: 'bold', color: '#1a1a1a' },
            r: { fontFamily: SERIF, fontSize: 23, color: '#1a1a1a' },
            s: { fontFamily: SERIF, fontSize: 15, color: '#1a1a1a', padding: [0, 0, 11, 0] }
        }
    }
})

const volCenters = [170, 375, 587, 795, 1008]
const flowCenters = [164, 367, 595, 802, 1015]
const levelCenters = [166, 373, 597, 803, 1012]

const graphics = [yTitle(143), yTitle(502)]
for (let i = 0; i < 5; i++) {
    graphics.push({
        type: 'text', x: volCenters[i], y: 311, scaleX: 0.7, silent: true,
        style: { text: 'Volume (L)', font: '25px ' + SERIF, fill: '#1a1a1a', align: 'center', verticalAlign: 'middle' }
    })
    graphics.push({
        type: 'text', x: flowCenters[i], y: 713, silent: true,
        style: {
            text: '{r|Flow (L˙s}{s|-1}{r|)}', align: 'center', verticalAlign: 'middle',
            rich: {
                r: { fontFamily: SERIF, fontSize: 20, color: '#1a1a1a' },
                s: sup
            }
        }
    })
    graphics.push({
        type: 'text', x: levelCenters[i], y: 752, silent: true,
        style: { text: cpapLevels[i], font: 'bold 25px ' + SERIF, fill: '#111', align: 'center', verticalAlign: 'middle' }
    })
}
graphics.push({
    type: 'text', x: 630, y: 793, silent: true,
    style: {
        text: '{b|CPAP}{r| (H}{d|2}{r|Ocm)}', align: 'center', verticalAlign: 'middle',
        rich: {
            b: { fontFamily: SERIF, fontSize: 25, fontWeight: 'bold', color: '#111' },
            r: { fontFamily: SERIF, fontSize: 25, color: '#111' },
            d: { fontFamily: SERIF, fontSize: 22, color: '#111', padding: [8, 0, 0, 0] }
        }
    }
})
graphics.push({
    type: 'text', x: 386, y: 47, silent: true,
    style: { text: '#', font: 'bold 17px ' + SANS, fill: '#111', align: 'center', verticalAlign: 'middle' }
})
graphics.push({
    type: 'text', x: 767, y: 596, silent: true,
    style: { text: '*', font: '34px ' + SANS, fill: '#e06060', align: 'center', verticalAlign: 'middle' }
})

const option = {
    animation: false,
    backgroundColor: '#fff',
    legend: {
        data: ['Xrs', 'Rrs'], orient: 'vertical', left: 26, top: 333, align: 'right',
        itemWidth: 45, itemHeight: 6, itemGap: 2, selectedMode: false,
        textStyle: { fontFamily: SERIF, fontSize: 18, color: '#222', lineHeight: 20, padding: [0, 10, 0, 0] }
    },
    grid: grids,
    xAxis: xAxes,
    yAxis: yAxes,
    series,
    graphic: graphics
}

const myChart = echarts.init(document.getElementById('main'))
myChart.setOption(option)
</script>
</body>
</html>
